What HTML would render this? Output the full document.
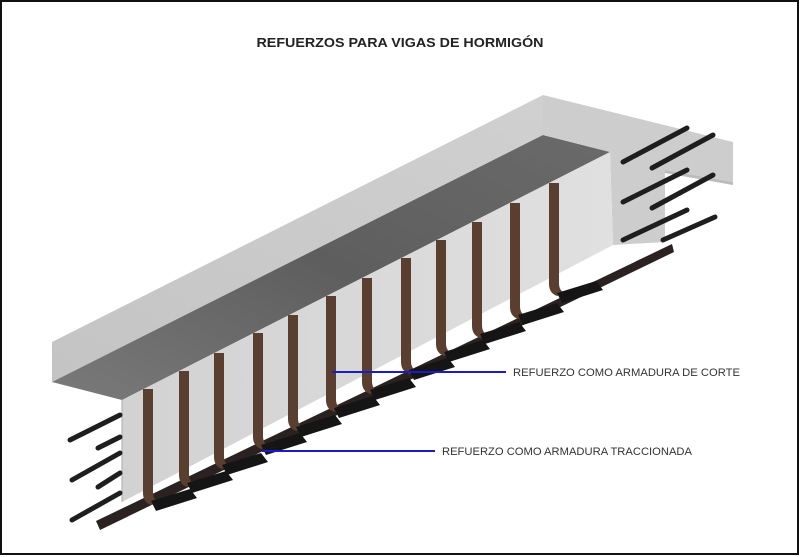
<!DOCTYPE html>
<html><head><meta charset="utf-8"><style>
html,body{margin:0;padding:0;background:#fff;}
svg{display:block;}
</style></head><body>
<svg width="800" height="557" viewBox="0 0 800 557" xmlns="http://www.w3.org/2000/svg">
<defs>
<linearGradient id="dk" x1="0" y1="1" x2="1" y2="0">
<stop offset="0" stop-color="#7a7a7a"/><stop offset="0.5" stop-color="#5e5e5e"/><stop offset="1" stop-color="#6a6a6a"/>
</linearGradient>
<linearGradient id="lt" x1="0" y1="1" x2="1" y2="0">
<stop offset="0" stop-color="#c4c4c4"/><stop offset="1" stop-color="#d0d0d0"/>
</linearGradient>
<linearGradient id="web" x1="0" y1="0" x2="1" y2="0">
<stop offset="0" stop-color="#d2d2d2"/><stop offset="1" stop-color="#e0e0e0"/>
</linearGradient>
</defs>
<rect x="0" y="0" width="800" height="557" fill="#fff"/>
<rect x="1" y="1" width="797" height="553" fill="none" stroke="#111" stroke-width="2"/>
<text x="400" y="47" text-anchor="middle" font-family="Liberation Sans, sans-serif" font-weight="bold" font-size="13" fill="#222" textLength="287" lengthAdjust="spacingAndGlyphs">REFUERZOS PARA VIGAS DE HORMIGÓN</text>

<!-- slab -->
<polygon points="52,342 543,95 543,135 52,382" fill="url(#lt)"/>
<polygon points="52,382 543,135 610,152 122,400" fill="url(#dk)"/>
<polygon points="543,95 733,142 733,182 665,170 665,242 613,245 610,152 543,135" fill="#cdcdcd"/>
<polygon points="665,170 733,182 733,185 665,173" fill="#bbb"/>
<!-- web -->
<polygon points="122,400 610,152 613,245 122,502" fill="url(#web)"/>
<line x1="122" y1="400" x2="122" y2="502" stroke="#aaa" stroke-width="1"/>

<!-- right end rebars (protruding from face) -->
<g stroke="#1e1e1e" stroke-width="5" stroke-linecap="round">
<line x1="623" y1="162" x2="687" y2="128"/>
<line x1="652" y1="168" x2="713" y2="135"/>
<line x1="623" y1="202" x2="687" y2="170"/>
<line x1="652" y1="208" x2="713" y2="175"/>
<line x1="623" y1="240" x2="687" y2="210"/>
<line x1="663" y1="240" x2="715" y2="217"/>
</g>

<!-- bottom long bar -->
<polygon points="96,521 672,244 674,252 100,530" fill="#2a2220"/>

<g fill="#5a3f30">
<path d="M143,389 h10 v103 q0,8 6,10 l-8,3 q-8,-3 -8,-12 z"/>
<path d="M179,371 h10 v103 q0,8 6,10 l-8,3 q-8,-3 -8,-12 z"/>
<path d="M214,353 h10 v103 q0,8 6,10 l-8,3 q-8,-3 -8,-12 z"/>
<path d="M253,333 h10 v103 q0,8 6,10 l-8,3 q-8,-3 -8,-12 z"/>
<path d="M288,315 h10 v103 q0,8 6,10 l-8,3 q-8,-3 -8,-12 z"/>
<path d="M326,296 h10 v103 q0,8 6,10 l-8,3 q-8,-3 -8,-12 z"/>
<path d="M362,278 h10 v103 q0,8 6,10 l-8,3 q-8,-3 -8,-12 z"/>
<path d="M401,258 h10 v103 q0,8 6,10 l-8,3 q-8,-3 -8,-12 z"/>
<path d="M436,240 h10 v103 q0,8 6,10 l-8,3 q-8,-3 -8,-12 z"/>
<path d="M472,222 h10 v103 q0,8 6,10 l-8,3 q-8,-3 -8,-12 z"/>
<path d="M510,203 h10 v103 q0,8 6,10 l-8,3 q-8,-3 -8,-12 z"/>
<path d="M549,183 h10 v100 q0,8 6,10 l-8,3 q-8,-3 -8,-12 z"/>
</g>
<g fill="#151515">
<polygon points="151,501 190,489 197,498 156,511"/>
<polygon points="187,483 226,471 233,480 192,493"/>
<polygon points="222,465 261,453 268,462 227,475"/>
<polygon points="261,445 300,433 307,442 266,455"/>
<polygon points="296,427 335,415 342,424 301,437"/>
<polygon points="334,408 373,396 380,405 339,418"/>
<polygon points="370,390 409,378 416,387 375,400"/>
<polygon points="409,370 448,358 455,367 414,380"/>
<polygon points="444,352 483,340 490,349 449,362"/>
<polygon points="480,334 519,322 526,331 485,344"/>
<polygon points="518,315 557,303 564,312 523,325"/>
<polygon points="557,293 596,281 603,290 562,303"/>
</g>

<!-- left rebars -->
<g stroke="#1e1e1e" stroke-width="5" stroke-linecap="round">
<line x1="70" y1="440" x2="120" y2="415"/>
<line x1="98" y1="448" x2="120" y2="437"/>
<line x1="72" y1="480" x2="120" y2="453"/>
<line x1="98" y1="487" x2="120" y2="473"/>
<line x1="72" y1="520" x2="120" y2="493"/>
</g>

<!-- labels -->
<line x1="332" y1="372" x2="506" y2="372" stroke="#1a1ad0" stroke-width="2"/>
<text x="513" y="376" font-family="Liberation Sans, sans-serif" font-size="11" fill="#333" textLength="227" lengthAdjust="spacingAndGlyphs">REFUERZO  COMO ARMADURA DE CORTE</text>
<line x1="262" y1="451" x2="435" y2="451" stroke="#1a1ad0" stroke-width="2"/>
<text x="442" y="455" font-family="Liberation Sans, sans-serif" font-size="11" fill="#333" textLength="250" lengthAdjust="spacingAndGlyphs">REFUERZO COMO ARMADURA TRACCIONADA</text>
</svg>
</body></html>
